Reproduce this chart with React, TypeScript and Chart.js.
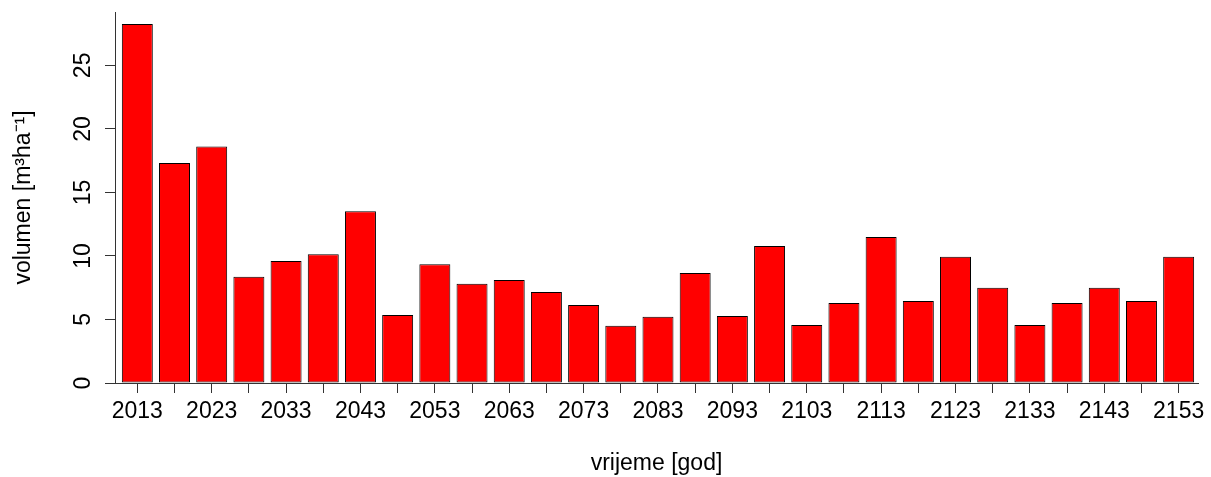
import React, { useEffect, useRef } from 'react';
import { Chart, registerables } from 'chart.js';

Chart.register(...registerables);

const years = [
  2013, 2018, 2023, 2028, 2033, 2038, 2043, 2048, 2053, 2058,
  2063, 2068, 2073, 2078, 2083, 2088, 2093, 2098, 2103, 2108,
  2113, 2118, 2123, 2128, 2133, 2138, 2143, 2148, 2153,
];
const volumes = [
  28.25, 17.31, 18.62, 8.37, 9.6, 10.13, 13.51, 5.35, 9.34, 7.82,
  8.1, 7.16, 6.14, 4.51, 5.22, 8.65, 5.27, 10.78, 4.56, 6.29,
  11.49, 6.45, 9.94, 7.5, 4.56, 6.29, 7.5, 6.45, 9.94,
];
const yTicks = [0, 5, 10, 15, 20, 25];
const xTitle = 'vrijeme [god]';
const yTitle = 'volumen [m³ha⁻¹]';

const FONT = "'Liberation Sans', Arial, sans-serif";
const SIZE = 23;
const AXIS = '#333333';

export default function App() {
  const ref = useRef<HTMLCanvasElement | null>(null);

  useEffect(() => {
    if (!ref.current) return;
    const chart = new Chart(ref.current, {
      type: 'bar',
      data: {
        datasets: [
          {
            data: years.map((y, i) => ({ x: y, y: volumes[i] })),
            backgroundColor: '#FF0000',
            borderColor: '#000000',
            borderWidth: 1,
            borderSkipped: false,
            barPercentage: 0.833,
            categoryPercentage: 1,
          },
        ],
      },
      options: {
        responsive: false,
        animation: false,
        layout: { padding: { top: 12, right: 13, left: 0, bottom: 0 } },
        plugins: { legend: { display: false }, tooltip: { enabled: false } },
        scales: {
          x: {
            type: 'linear',
            offset: false,
            min: 2010,
            max: 2155.6,
            afterBuildTicks: (scale: any) => {
              scale.ticks = years.map((v) => ({ value: v }));
            },
            afterFit: (scale: any) => {
              scale.height = 94;
              scale.paddingLeft = 0;
              scale.paddingRight = 0;
            },
            grid: {
              display: true,
              offset: false,
              drawOnChartArea: false,
              drawTicks: true,
              tickLength: 10,
              tickColor: AXIS,
              tickWidth: 1,
            },
            border: { display: true, color: AXIS, width: 1 },
            ticks: {
              autoSkip: false,
              maxRotation: 0,
              minRotation: 0,
              padding: 5,
              color: '#000',
              font: { family: FONT, size: SIZE },
              callback: (v: any, i: number) => (i % 2 === 0 ? String(v) : ''),
            },
            title: {
              display: true,
              text: xTitle,
              color: '#000',
              font: { family: FONT, size: SIZE },
              padding: { top: 0, bottom: 0 },
            },
          },
          y: {
            type: 'linear',
            min: 0,
            max: 29.2,
            afterBuildTicks: (scale: any) => {
              scale.ticks = yTicks.map((v) => ({ value: v }));
            },
            afterFit: (scale: any) => {
              scale.width = 115;
              scale.paddingTop = 0;
              scale.paddingBottom = 0;
            },
            grid: {
              display: true,
              drawOnChartArea: false,
              drawTicks: true,
              tickLength: 10,
              tickColor: AXIS,
              tickWidth: 1,
            },
            border: { display: true, color: AXIS, width: 1 },
            ticks: {
              minRotation: 90,
              maxRotation: 90,
              crossAlign: 'center',
              padding: 9,
              color: '#000',
              font: { family: FONT, size: SIZE },
              callback: (v: any) => String(v),
            },
            title: {
              display: true,
              text: yTitle,
              color: '#000',
              font: { family: FONT, size: SIZE },
              padding: { top: 10, bottom: 0 },
            },
          },
        },
      },
    } as any);
    return () => chart.destroy();
  }, []);

  return (
    <canvas
      ref={ref}
      width={1211}
      height={477}
      style={{ position: 'absolute', left: 0, top: 0, display: 'block' }}
    />
  );
}
